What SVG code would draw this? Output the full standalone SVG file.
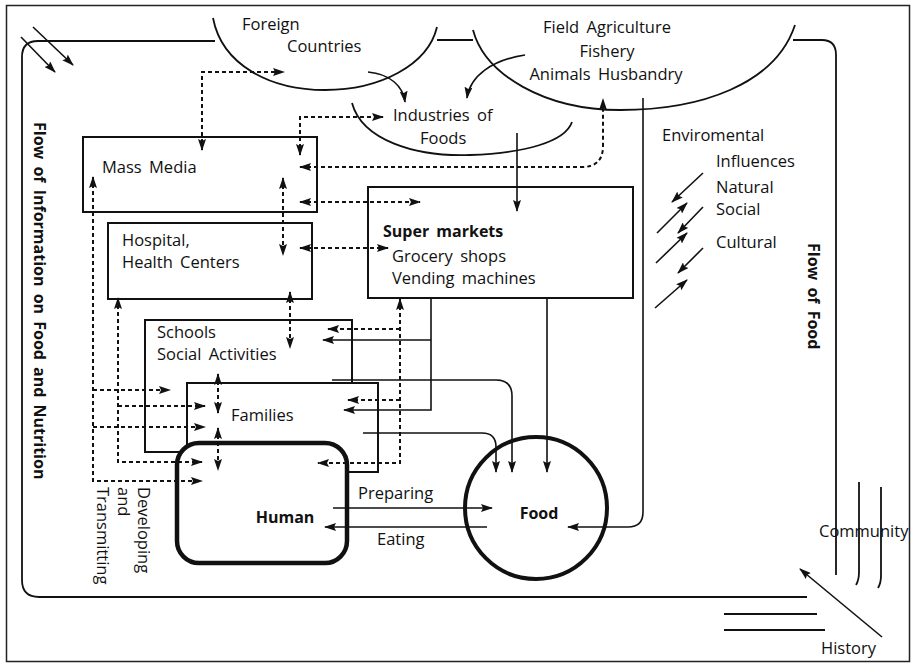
<svg xmlns="http://www.w3.org/2000/svg" width="913" height="665" viewBox="0 0 913 665">
<defs>
<style>
.t{font-family:"Open Sans","Liberation Sans",sans-serif;font-size:16.5px;fill:#111;word-spacing:3px}
.b{font-weight:bold;font-size:16px}
.box{fill:#fff;stroke:#111;stroke-width:2}
.ln{fill:none;stroke:#111;stroke-width:1.8}
.sl{fill:none;stroke:#111;stroke-width:1.6;marker-end:url(#ah)}
.dt{fill:none;stroke:#111;stroke-width:2;stroke-dasharray:4,3;marker-end:url(#ah)}
.two{marker-start:url(#ah)}
</style>
<marker id="ah" viewBox="0 0 12 8" refX="11" refY="4" markerWidth="12" markerHeight="8" markerUnits="userSpaceOnUse" orient="auto-start-reverse">
<path d="M0,0 L12,4 L0,8 L2,4 z" fill="#111"/>
</marker>
</defs>
<rect x="0" y="0" width="913" height="665" fill="#fff"/>
<rect x="6.5" y="5.5" width="903" height="656" fill="none" stroke="#222" stroke-width="1.5"/>

<g id="frame">
<path class="ln" d="M215,41 H38 Q22,41 22,57 V580 Q22,597 39,597 H807"/>
<path class="ln" d="M437,40 H473"/>
<path class="ln" d="M793,40 H822 Q836,40 836,55 V575"/>
<path class="ln" d="M859,482 V572 Q859,580 856,585"/>
<path class="ln" d="M881,487 V576 Q881,583 878,588"/>
<path class="ln" d="M724,614 H817 M724,630 H825"/>
</g>

<g id="foreign">
<path class="ln" d="M213,18 C222,65 270,90 325,90 C380,90 428,65 437,27"/>
<text class="t" x="242" y="30">Foreign</text>
<text class="t" x="287" y="52">Countries</text>
</g>

<g id="agriculture">
<path class="ln" d="M473,30 C485,75 545,110 620,110 C700,110 775,85 795,25"/>
<text class="t" x="607" y="33" text-anchor="middle">Field Agriculture</text>
<text class="t" x="607" y="57" text-anchor="middle">Fishery</text>
<text class="t" x="606" y="80" text-anchor="middle">Animals Husbandry</text>
</g>

<g id="industries">
<path class="ln" d="M352,103 C362,140 415,157 470,155 C525,153 565,142 572,122"/>
<text class="t" x="393" y="121">Industries of</text>
<text class="t" x="420" y="144">Foods</text>
</g>

<g id="massmedia">
<rect class="box" x="83" y="137" width="234" height="75"/>
<text class="t" x="102" y="173">Mass Media</text>
</g>

<g id="hospital">
<rect class="box" x="108" y="223" width="204" height="76"/>
<text class="t" x="122" y="246">Hospital,</text>
<text class="t" x="122" y="268">Health Centers</text>
</g>

<g id="supermarkets">
<rect class="box" x="368" y="187" width="265" height="111"/>
<text class="t b" x="383" y="237">Super markets</text>
<text class="t" x="392" y="262">Grocery shops</text>
<text class="t" x="392" y="284">Vending machines</text>
</g>

<g id="schools">
<rect class="box" x="145" y="320" width="207" height="132"/>
<text class="t" x="157" y="338">Schools</text>
<text class="t" x="157" y="360">Social Activities</text>
</g>

<g id="families">
<rect class="box" x="187" y="383" width="191" height="89"/>
<text class="t" x="231" y="421">Families</text>
</g>

<g id="human">
<rect x="177" y="443" width="170" height="120" rx="22" fill="#fff" stroke="#111" stroke-width="4.5"/>
<text class="t b" x="285" y="523" text-anchor="middle">Human</text>
</g>

<g id="food">
<circle cx="536" cy="508" r="71" fill="#fff" stroke="#111" stroke-width="4"/>
<text class="t b" x="539" y="519" text-anchor="middle">Food</text>
</g>

<g id="environment">
<text class="t" x="662" y="141">Enviromental</text>
<text class="t" x="716" y="167">Influences</text>
<text class="t" x="716" y="193">Natural</text>
<text class="t" x="716" y="215">Social</text>
<text class="t" x="716" y="248">Cultural</text>
</g>

<g id="labels">
<text class="t b" x="34" y="122" transform="rotate(90 34 122)">Flow of Information on Food and Nutrition</text>
<text class="t b" x="808" y="243" transform="rotate(90 808 243)">Flow of Food</text>
<text class="t" x="138" y="487" transform="rotate(90 138 487)">Developing</text>
<text class="t" x="118" y="487" transform="rotate(90 118 487)">and</text>
<text class="t" x="97" y="487" transform="rotate(90 97 487)">Transmitting</text>
<text class="t" x="358" y="499">Preparing</text>
<text class="t" x="377" y="545">Eating</text>
<text class="t" x="819" y="537">Community</text>
<text class="t" x="821" y="654">History</text>
</g>

<g id="connectors">
<path class="dt two" d="M202,150 V72 H284"/>
<path class="dt two" d="M300,155 V117 H383"/>
<path class="dt two" d="M300,167 H582 Q603,167 603,146 V99"/>
<path class="dt two" d="M300,202 H420"/>
<path class="dt two" d="M283,178 V255"/>
<path class="dt two" d="M300,248 H388"/>
<path class="dt two" d="M93,177 V481 H202"/>
<path class="dt" d="M93,390 H170"/>
<path class="dt" d="M93,427 H205"/>
<path class="dt two" d="M118,298 V462 H202"/>
<path class="dt" d="M118,406 H205"/>
<path class="dt two" d="M290,292 V348"/>
<path class="dt two" d="M218,374 V413"/>
<path class="dt two" d="M218,428 V470"/>
<path class="dt two" d="M400,299 V463 H318"/>
<path class="dt" d="M400,329 H328"/>
<path class="dt" d="M400,400 H348"/>

<path class="sl" d="M431,298 V410 H344"/>
<path class="sl" d="M431,340 H323"/>
<path class="sl" d="M547,298 V472"/>
<path class="sl" d="M332,380 H496 Q512,380 512,396 V472"/>
<path class="sl" d="M363,433 H482 Q496,433 496,447 V472"/>
<path class="sl" d="M643,98 V512 Q643,527 628,527 H568"/>
<path class="sl" d="M517,133 V211"/>
<path class="sl" d="M333,508 H492"/>
<path class="sl" d="M487,527 H325"/>
<path class="sl" d="M368,72 C390,74 403,86 405,102"/>
<path class="sl" d="M525,55 C492,60 470,76 467,98"/>

<path class="sl" d="M703,173 L672,202"/>
<path class="sl" d="M657,233 L687,203"/>
<path class="sl" d="M703,207 L678,233"/>
<path class="sl" d="M656,263 L687,233"/>
<path class="sl" d="M703,248 L678,273"/>
<path class="sl" d="M655,308 L687,280"/>

<path class="sl" d="M882,637 L800,569"/>
<path class="sl" d="M33,27 L73,65"/>
<path class="sl" d="M21,37 L55,72"/>
</g>
</svg>
